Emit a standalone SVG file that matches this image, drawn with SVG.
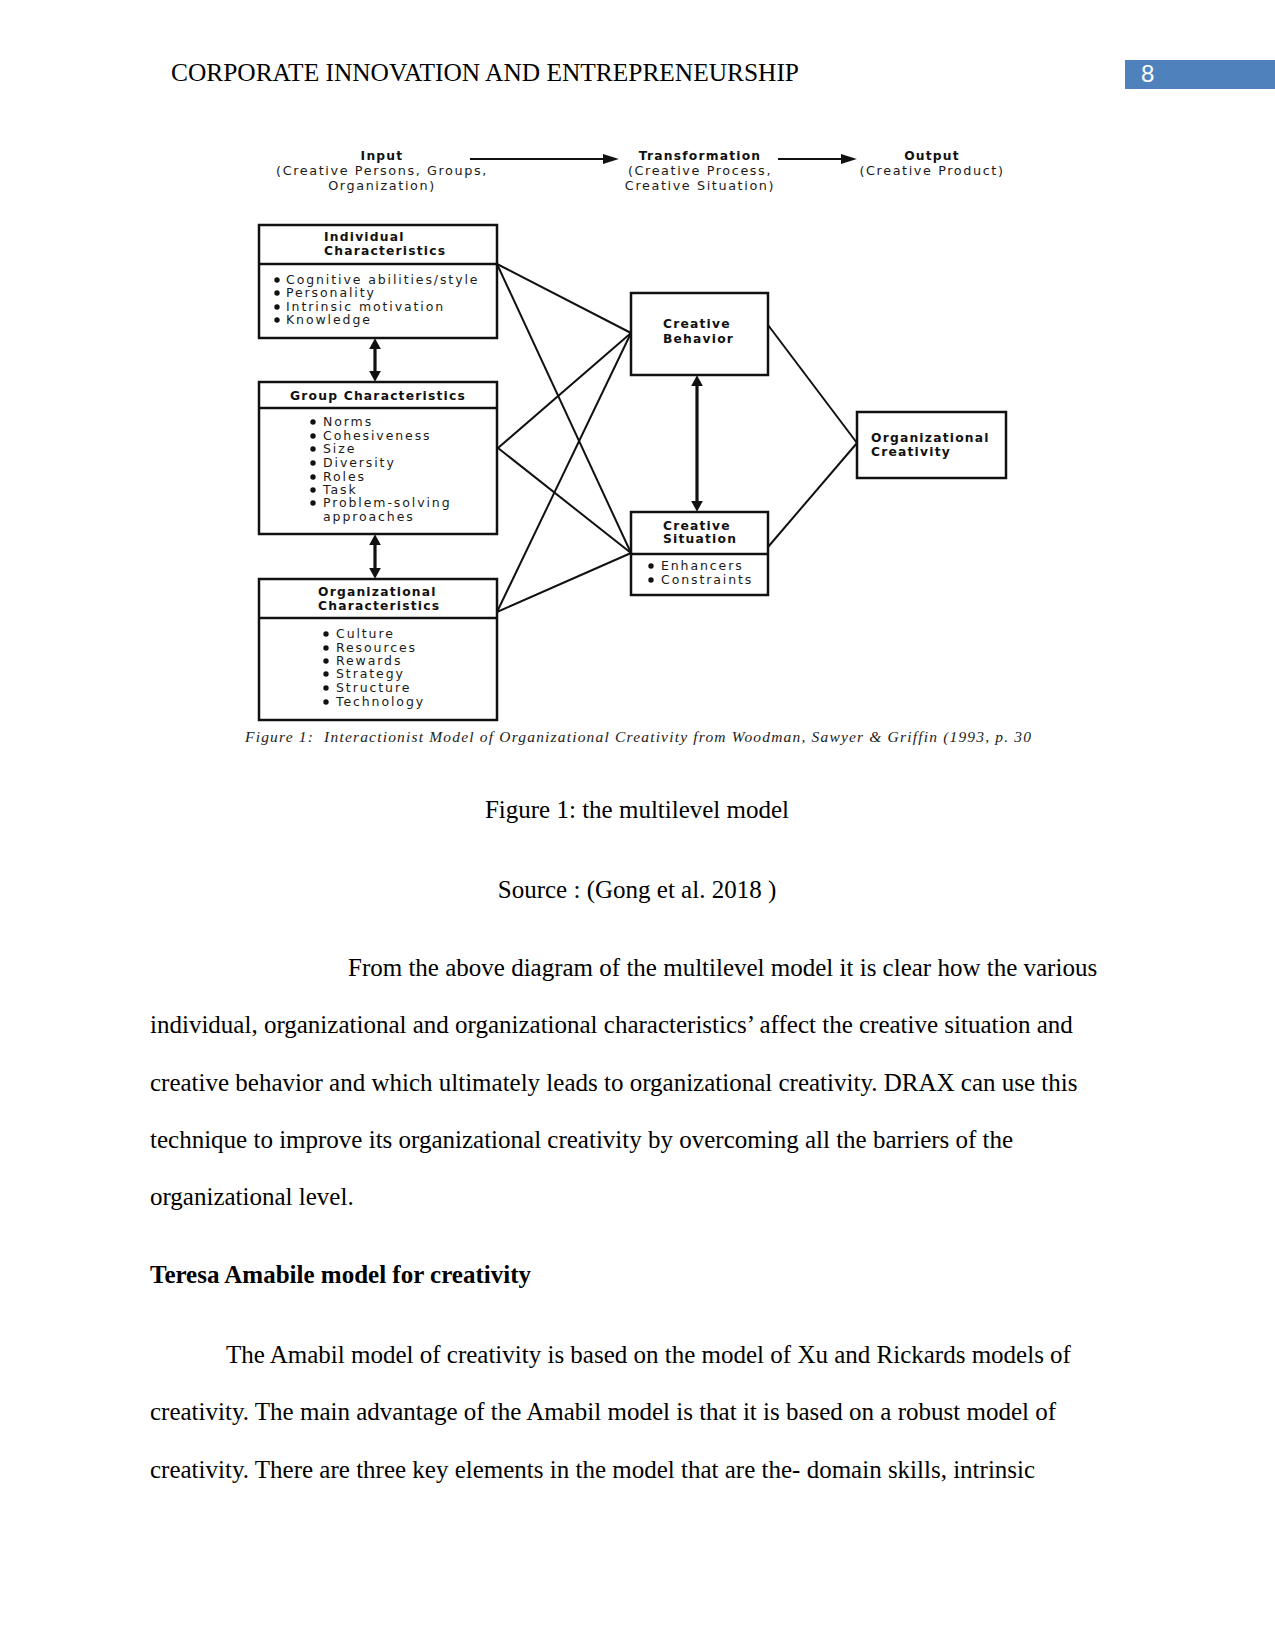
<svg xmlns="http://www.w3.org/2000/svg" width="1275" height="1650" viewBox="0 0 1275 1650">
<style>
  .page{fill:#ffffff}
  .hdr{font-family:"Liberation Serif","Times New Roman",serif;font-size:25.4px;fill:#000}
  .doc{font-family:"Liberation Serif","Times New Roman",serif;font-size:25px;fill:#000}
  .docb{font-family:"Liberation Serif","Times New Roman",serif;font-size:25px;font-weight:bold;fill:#000}
  .box{fill:#fff;stroke:#111;stroke-width:2.5}
  .div{stroke:#111;stroke-width:2.5}
  .hd{font-family:"DejaVu Sans",Verdana,sans-serif;font-size:12.3px;font-weight:bold;letter-spacing:1.2px;fill:#111}
  .it{font-family:"DejaVu Sans",Verdana,sans-serif;font-size:12.5px;letter-spacing:1.9px;fill:#1a1a1a}
  .top{font-family:"DejaVu Sans",Verdana,sans-serif;font-size:12.8px;letter-spacing:1.6px;fill:#1a1a1a;text-anchor:middle}
  .topb{font-family:"DejaVu Sans",Verdana,sans-serif;font-size:12.3px;font-weight:bold;letter-spacing:1.2px;fill:#111;text-anchor:middle}
  .dot{fill:#111}
  .ln{stroke:#111;stroke-width:2;fill:none}
  .dbl{stroke:#111;stroke-width:3.2;fill:none}
  .arr{stroke:#111;stroke-width:2;fill:none}
  .cap{font-family:"Liberation Serif","Times New Roman",serif;font-style:italic;font-size:15.5px;fill:#222}
</style>
<defs>
  <marker id="ah" viewBox="0 0 10 10" refX="2" refY="5" markerWidth="16" markerHeight="10" preserveAspectRatio="none" orient="auto" markerUnits="userSpaceOnUse">
    <path d="M0,0 L10,5 L0,10 z" fill="#111"/>
  </marker>
  <marker id="dh" viewBox="0 0 10 10" refX="3" refY="5" markerWidth="11" markerHeight="12" preserveAspectRatio="none" orient="auto-start-reverse" markerUnits="userSpaceOnUse">
    <path d="M0,0 L10,5 L0,10 z" fill="#111"/>
  </marker>
  <clipPath id="capclip"><rect x="230" y="725" width="801" height="30"/></clipPath>
</defs>
<rect class="page" x="0" y="0" width="1275" height="1650"/>

<g id="page-header">
  <text class="hdr" x="171" y="81">CORPORATE INNOVATION AND ENTREPRENEURSHIP</text>
  <rect x="1125" y="60" width="150" height="29" fill="#4F81BD"/>
  <text x="1141" y="82" font-family="Liberation Sans Narrow, Liberation Sans, sans-serif" font-size="24" fill="#fff">8</text>
</g>

<g id="flow-header">
  <text class="topb" x="382" y="160">Input</text>
  <text class="top" x="382" y="175">(Creative Persons, Groups,</text>
  <text class="top" x="382" y="190">Organization)</text>
  <text class="topb" x="700" y="160">Transformation</text>
  <text class="top" x="700" y="175">(Creative Process,</text>
  <text class="top" x="700" y="190">Creative Situation)</text>
  <text class="topb" x="932" y="160">Output</text>
  <text class="top" x="932" y="175">(Creative Product)</text>
</g>

<g id="connectors">
  <line class="arr" x1="470" y1="159" x2="606" y2="159" marker-end="url(#ah)"/>
  <line class="arr" x1="778" y1="159" x2="844" y2="159" marker-end="url(#ah)"/>
  <line class="ln" x1="497" y1="264" x2="631" y2="333"/>
  <line class="ln" x1="497" y1="264" x2="631" y2="553"/>
  <line class="ln" x1="498" y1="448" x2="631" y2="333"/>
  <line class="ln" x1="498" y1="448" x2="631" y2="553"/>
  <line class="ln" x1="497" y1="612" x2="631" y2="333"/>
  <line class="ln" x1="497" y1="612" x2="631" y2="553"/>
  <line class="ln" x1="768" y1="325" x2="857" y2="443"/>
  <line class="ln" x1="768" y1="547" x2="857" y2="443"/>
  <line class="dbl" x1="375" y1="346" x2="375" y2="374" marker-start="url(#dh)" marker-end="url(#dh)"/>
  <line class="dbl" x1="375" y1="542" x2="375" y2="571" marker-start="url(#dh)" marker-end="url(#dh)"/>
  <line class="dbl" x1="697" y1="383" x2="697" y2="504" marker-start="url(#dh)" marker-end="url(#dh)"/>
</g>

<g id="individual-characteristics">
  <rect class="box" x="259" y="225" width="238" height="113"/>
  <line class="div" x1="259" y1="264" x2="497" y2="264"/>
  <text class="hd" x="324" y="241">Individual</text>
  <text class="hd" x="324" y="255">Characteristics</text>
  <circle class="dot" cx="277" cy="280" r="2.7"/><text class="it" x="286" y="284">Cognitive abilities/style</text>
  <circle class="dot" cx="277" cy="293" r="2.7"/><text class="it" x="286" y="297">Personality</text>
  <circle class="dot" cx="277" cy="307" r="2.7"/><text class="it" x="286" y="311">Intrinsic motivation</text>
  <circle class="dot" cx="277" cy="320" r="2.7"/><text class="it" x="286" y="324">Knowledge</text>
</g>

<g id="group-characteristics">
  <rect class="box" x="259" y="382" width="238" height="152"/>
  <line class="div" x1="259" y1="408" x2="497" y2="408"/>
  <text class="hd" x="378" y="400" text-anchor="middle">Group Characteristics</text>
  <circle class="dot" cx="313" cy="422" r="2.7"/><text class="it" x="323" y="426">Norms</text>
  <circle class="dot" cx="313" cy="436" r="2.7"/><text class="it" x="323" y="440">Cohesiveness</text>
  <circle class="dot" cx="313" cy="449" r="2.7"/><text class="it" x="323" y="453">Size</text>
  <circle class="dot" cx="313" cy="463" r="2.7"/><text class="it" x="323" y="467">Diversity</text>
  <circle class="dot" cx="313" cy="477" r="2.7"/><text class="it" x="323" y="481">Roles</text>
  <circle class="dot" cx="313" cy="490" r="2.7"/><text class="it" x="323" y="494">Task</text>
  <circle class="dot" cx="313" cy="503" r="2.7"/><text class="it" x="323" y="507">Problem-solving</text>
  <text class="it" x="323" y="521">approaches</text>
</g>

<g id="organizational-characteristics">
  <rect class="box" x="259" y="579" width="238" height="141"/>
  <line class="div" x1="259" y1="618" x2="497" y2="618"/>
  <text class="hd" x="318" y="596">Organizational</text>
  <text class="hd" x="318" y="610">Characteristics</text>
  <circle class="dot" cx="326" cy="634" r="2.7"/><text class="it" x="336" y="638">Culture</text>
  <circle class="dot" cx="326" cy="648" r="2.7"/><text class="it" x="336" y="652">Resources</text>
  <circle class="dot" cx="326" cy="661" r="2.7"/><text class="it" x="336" y="665">Rewards</text>
  <circle class="dot" cx="326" cy="674" r="2.7"/><text class="it" x="336" y="678">Strategy</text>
  <circle class="dot" cx="326" cy="688" r="2.7"/><text class="it" x="336" y="692">Structure</text>
  <circle class="dot" cx="326" cy="702" r="2.7"/><text class="it" x="336" y="706">Technology</text>
</g>

<g id="creative-behavior">
  <rect class="box" x="631" y="293" width="137" height="82"/>
  <text class="hd" x="663" y="328">Creative</text>
  <text class="hd" x="663" y="343">Behavior</text>
</g>

<g id="creative-situation">
  <rect class="box" x="631" y="512" width="137" height="83"/>
  <line class="div" x1="631" y1="554" x2="768" y2="554"/>
  <text class="hd" x="663" y="530">Creative</text>
  <text class="hd" x="663" y="543">Situation</text>
  <circle class="dot" cx="651" cy="566" r="2.7"/><text class="it" x="661" y="570">Enhancers</text>
  <circle class="dot" cx="651" cy="580" r="2.7"/><text class="it" x="661" y="584">Constraints</text>
</g>

<g id="organizational-creativity">
  <rect class="box" x="857" y="412" width="149" height="66"/>
  <text class="hd" x="871" y="442">Organizational</text>
  <text class="hd" x="871" y="456">Creativity</text>
</g>

<g id="figure-caption" clip-path="url(#capclip)">
  <text class="cap" x="245" y="742" textLength="786" lengthAdjust="spacing" xml:space="preserve">Figure 1:  Interactionist Model of Organizational Creativity from Woodman, Sawyer &amp; Griffin (1993, p. 30</text>
</g>

<g id="body-text">
  <text class="doc" x="637" y="818" text-anchor="middle">Figure 1: the multilevel model</text>
  <text class="doc" x="637" y="898" text-anchor="middle" xml:space="preserve">Source : (Gong et al. 2018 )</text>
  <text class="doc" x="348" y="976">From the above diagram of the multilevel model it is clear how the various</text>
  <text class="doc" x="150" y="1033">individual, organizational and organizational characteristics’ affect the creative situation and</text>
  <text class="doc" x="150" y="1091">creative behavior and which ultimately leads to organizational creativity. DRAX can use this</text>
  <text class="doc" x="150" y="1148">technique to improve its organizational creativity by overcoming all the barriers of the</text>
  <text class="doc" x="150" y="1205">organizational level.</text>
  <text class="docb" x="150" y="1283">Teresa Amabile model for creativity</text>
  <text class="doc" x="226" y="1363">The Amabil model of creativity is based on the model of Xu and Rickards models of</text>
  <text class="doc" x="150" y="1420">creativity. The main advantage of the Amabil model is that it is based on a robust model of</text>
  <text class="doc" x="150" y="1478">creativity. There are three key elements in the model that are the- domain skills, intrinsic</text>
</g>
</svg>
